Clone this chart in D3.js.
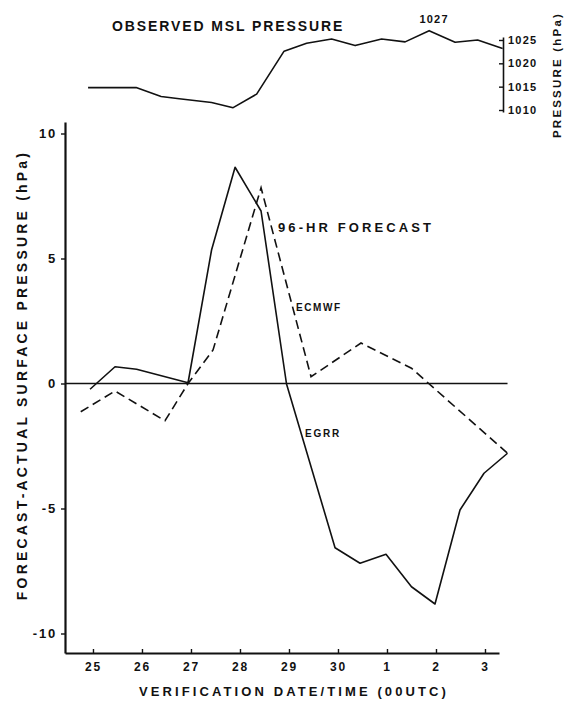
<!DOCTYPE html>
<html><head><meta charset="utf-8">
<script src="https://cdn.jsdelivr.net/npm/d3@7"></script>
<style>
html,body{margin:0;padding:0;background:#fff;}
text{font-family:"Liberation Sans",Arial,sans-serif;font-weight:bold;fill:#111;}
</style></head>
<body><svg id="c" width="570" height="710"></svg>
<script>
// x positions: days after 25th (25 -> 0, 26 -> 1, ... 3 -> 8)
const dayTicks = [0,1,2,3,4,5,6,7,8];
const dayLabels = ["25","26","27","28","29","30","1","2","3"];
const yTicks = [-10,-5,0,5,10];
const pTicks = [1010,1015,1020,1025];

// Observed MSL pressure (hPa)
const obsT = [-0.1, 0.88, 1.39, 1.76, 2.42, 2.86, 3.34, 3.9, 4.36, 4.87, 5.35, 5.89, 6.37, 6.86, 7.39, 7.85, 8.36];
const obsP = [1014.8, 1014.8, 1012.9, 1012.4, 1011.6, 1010.5, 1013.4, 1022.6, 1024.3, 1025.2, 1023.8, 1025.2, 1024.6, 1027, 1024.5, 1025, 1023.2];

// EGRR 96-hr forecast - actual (hPa), solid
const egrrT = [-0.06, 0.45, 0.89, 1.94, 2.42, 2.90, 3.43, 3.95, 4.94, 5.45, 5.98, 6.50, 6.98, 7.49, 7.98, 8.46];
const egrrV = [-0.23, 0.67, 0.57, 0.03, 5.34, 8.65, 6.9, -0.02, -6.57, -7.19, -6.83, -8.13, -8.82, -5.06, -3.59, -2.79];

// ECMWF 96-hr forecast - actual (hPa), dashed
const ecmT = [-0.25, 0.45, 1.47, 1.94, 2.45, 3.43, 4.45, 5.47, 6.50, 8.46];
const ecmV = [-1.13, -0.3, -1.49, 0, 1.34, 7.83, 0.27, 1.62, 0.61, -2.79];

const svg = d3.select("#c");
const FONT = "'Liberation Sans',Arial,sans-serif";

const x = d3.scaleLinear().domain([-0.571, 8.286]).range([65, 499]);
const y = d3.scaleLinear().domain([-10.78, 10.46]).range([653, 122]);
const yp = d3.scaleLinear().domain([1009.57, 1025.64]).range([112, 37]);

// ---- Top panel ----
const topLine = d3.line().x(d => x(d[0])).y(d => yp(d[1]));
svg.append("path").datum(obsT.map((t,i)=>[t,obsP[i]]))
  .attr("d", topLine).attr("fill","none").attr("stroke","#111").attr("stroke-width",1.6)
  .attr("stroke-linejoin","round");

const pAxis = svg.append("g").attr("transform","translate(503,0)")
  .call(d3.axisRight(yp).tickValues(pTicks).tickFormat(d3.format("d")).tickSizeInner(-4).tickSizeOuter(0).tickPadding(5));
pAxis.select(".domain").attr("stroke","#111").attr("stroke-width",1.6);
pAxis.selectAll(".tick line").attr("stroke","#111").attr("stroke-width",1.4);
pAxis.selectAll("text").attr("font-size",11).attr("letter-spacing",1.2).attr("fill","#111")
  .style("font-family",FONT).style("font-weight","bold");

svg.append("text").attr("x",112).attr("y",31).attr("font-size",14).attr("letter-spacing",1.9)
  .text("OBSERVED MSL PRESSURE");
svg.append("text").attr("x",x(6.86)+5).attr("y",23).attr("text-anchor","middle").attr("font-size",11)
  .attr("letter-spacing",1.2).text("1027");
svg.append("text").attr("transform","translate(561,75) rotate(-90)").attr("text-anchor","middle")
  .attr("font-size",11.5).attr("letter-spacing",2.2).text("PRESSURE (hPa)");

// ---- Main panel ----
svg.append("line").attr("x1",x(-0.571)).attr("x2",x(8.46)).attr("y1",y(0)).attr("y2",y(0))
  .attr("stroke","#111").attr("stroke-width",1.6);

const xAxis = svg.append("g").attr("transform","translate(0,653)")
  .call(d3.axisBottom(x).tickValues(dayTicks).tickFormat((d,i)=>dayLabels[i]).tickSizeInner(-4).tickSizeOuter(0).tickPadding(9));
xAxis.select(".domain").attr("stroke","#111").attr("stroke-width",2);
xAxis.selectAll(".tick line").attr("stroke","#111").attr("stroke-width",1.4);
xAxis.selectAll("text").attr("font-size",12).attr("letter-spacing",1.8).attr("fill","#111")
  .style("font-family",FONT).style("font-weight","bold");

const yAxis = svg.append("g").attr("transform","translate(65,0)")
  .call(d3.axisLeft(y).tickValues(yTicks).tickFormat(d=>d<0?"-"+Math.abs(d):d).tickSizeInner(4).tickSizeOuter(0).tickPadding(4));
yAxis.select(".domain").attr("stroke","#111").attr("stroke-width",2.2);
yAxis.selectAll(".tick line").attr("stroke","#111").attr("stroke-width",1.4);
yAxis.selectAll("text").attr("font-size",13).attr("letter-spacing",1.8).attr("fill","#111")
  .style("font-family",FONT).style("font-weight","bold");

const line = d3.line().x(d => x(d[0])).y(d => y(d[1]));
svg.append("path").datum(ecmT.map((t,i)=>[t,ecmV[i]]))
  .attr("d", line).attr("fill","none").attr("stroke","#111").attr("stroke-width",1.6)
  .attr("stroke-dasharray","9,5");
svg.append("path").datum(egrrT.map((t,i)=>[t,egrrV[i]]))
  .attr("d", line).attr("fill","none").attr("stroke","#111").attr("stroke-width",1.6)
  .attr("stroke-linejoin","round");

svg.append("text").attr("x",278).attr("y",232).attr("font-size",13).attr("letter-spacing",3.1)
  .text("96-HR FORECAST");
svg.append("text").attr("x",296).attr("y",311).attr("font-size",10).attr("letter-spacing",1.6)
  .text("ECMWF");
svg.append("text").attr("x",305).attr("y",437).attr("font-size",10).attr("letter-spacing",1.8)
  .text("EGRR");

svg.append("text").attr("transform","translate(27,375) rotate(-90)").attr("text-anchor","middle")
  .attr("font-size",14).attr("letter-spacing",3.2).text("FORECAST-ACTUAL SURFACE PRESSURE (hPa)");
svg.append("text").attr("x",294).attr("y",696).attr("text-anchor","middle")
  .attr("font-size",13).attr("letter-spacing",3.1).text("VERIFICATION DATE/TIME (00UTC)");
</script></body></html>
